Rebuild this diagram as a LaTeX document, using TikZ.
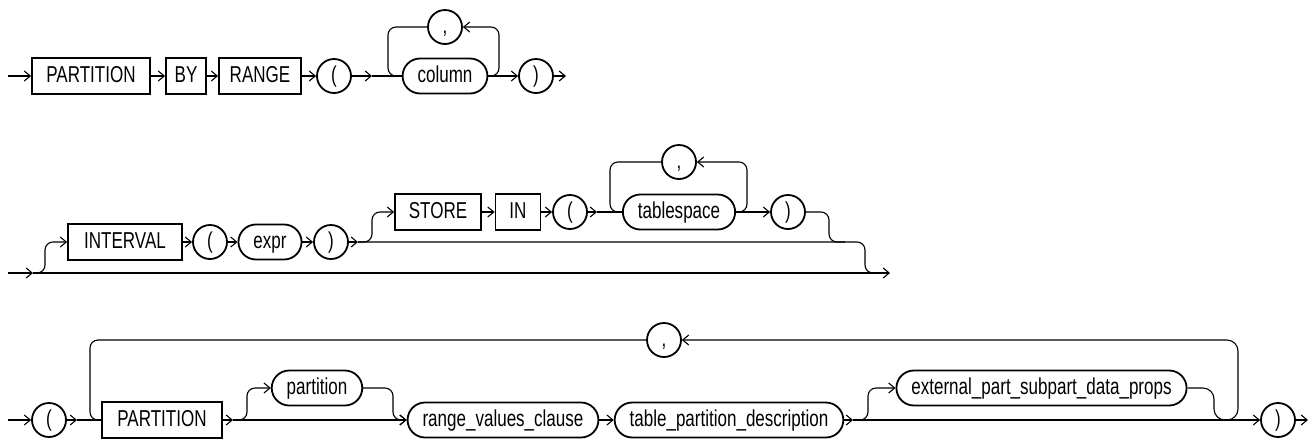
\documentclass[tikz,border=0pt]{standalone}
\usepackage{fontspec}
\setmainfont{Liberation Sans}[FakeStretch=0.74]
\usetikzlibrary{arrows.meta}

\begin{document}
\begin{tikzpicture}[
  x=1pt, y=-1pt,
  every node/.style={font=\fontsize{23}{27}\selectfont,text height=16.5pt,text depth=4.5pt},
  kw/.style={rectangle,draw,line width=1.8pt,minimum height=36pt,inner xsep=8pt,inner ysep=0pt},
  nonterm/.style={rectangle,draw,line width=1.8pt,rounded corners=17.5pt,minimum height=35pt,inner xsep=15pt,inner ysep=0pt},
  sym/.style={circle,draw,line width=1.8pt,minimum size=34pt,inner sep=0pt},
  rail/.style={line width=1.1pt},
  arrow/.style={rail,-{Straight Barb[length=6pt,width=10pt]}},
  turn/.style={rail,rounded corners=8pt}
]
\useasboundingbox (0,0) rectangle (1315,440);

% Row 1: PARTITION BY RANGE ( column, ... )
\node[kw,minimum width=118pt] (part1) at (91,76) {PARTITION};
\node[kw,minimum width=40pt] (by) at (186,76) {BY};
\node[kw,minimum width=82pt] (range) at (260,76) {RANGE};
\node[sym] (lp1) at (334,76) {(};
\node[nonterm] (column) at (445,76) {column};
\node[sym] (comma1) at (445,27) {,};
\node[sym] (rp1) at (536,76) {)};

\coordinate (s1) at (8,76);
\coordinate (j1) at (372,76);
\coordinate (e1) at (566,76);

\draw[arrow] (s1) -- (part1);
\draw[arrow] (part1) -- (by);
\draw[arrow] (by) -- (range);
\draw[arrow] (range) -- (lp1);
\draw[arrow] (lp1) -- (j1);
\draw[rail] (j1) -- (column);
\draw[turn] (comma1.west) -| (388,76) -- (column.west);
\draw[turn,arrow] (column.east) -| (499,27) -- (comma1.east);
\draw[arrow] (column) -- (rp1);
\draw[arrow] (rp1) -- (e1);

% Row 2: optional INTERVAL ( expr ) with optional STORE IN ( tablespace, ... )
\node[kw,minimum width=114pt] (interval) at (125,242) {INTERVAL};
\node[sym] (lp2) at (210,242) {(};
\node[nonterm] (expr) at (270,242) {expr};
\node[sym] (rp2) at (331,242) {)};
\node[kw,minimum width=86pt] (store) at (438,212) {STORE};
\node[kw,minimum width=45pt] (in) at (518,212) {IN};
\node[sym] (lp3) at (570,212) {(};
\node[nonterm] (tablespace) at (679,212) {tablespace};
\node[sym] (comma2) at (679,162) {,};
\node[sym] (rp3) at (788,212) {)};

\coordinate (s2) at (8,273);
\coordinate (j2) at (33,273);
\coordinate (e2) at (890,273);
\coordinate (j3) at (358,242);
\coordinate (j4) at (597,212);

\draw[arrow] (s2) -- (j2);
\draw[arrow] (j2) -- (e2);
\draw[turn,arrow] (j2) -| (45,242) -- (interval.west);
\draw[arrow] (interval) -- (lp2);
\draw[arrow] (lp2) -- (expr);
\draw[arrow] (expr) -- (rp2);
\draw[arrow] (rp2) -- (j3);
\draw[turn] (j3) -| (865,273) -- (880,273);
\draw[turn,arrow] (j3) -| (372,212) -- (store.west);
\draw[arrow] (store) -- (in);
\draw[arrow] (in) -- (lp3);
\draw[arrow] (lp3) -- (j4);
\draw[rail] (j4) -- (tablespace);
\draw[turn] (comma2.west) -| (610,212) -- (tablespace.west);
\draw[turn,arrow] (tablespace.east) -| (747,162) -- (comma2.east);
\draw[arrow] (tablespace) -- (rp3);
\draw[turn] (rp3.east) -| (829,242) -- (845,242);

% Row 3: ( PARTITION [partition] range_values_clause ... , ... )
\node[sym] (lp4) at (49,420) {(};
\node[kw,minimum width=120pt] (part2) at (162,420) {PARTITION};
\node[nonterm] (partition) at (317,388) {partition};
\node[nonterm] (rvc) at (503,420) {range\_values\_clause};
\node[nonterm] (tpd) at (729,420) {table\_partition\_description};
\node[nonterm] (ext) at (1041.5,388) {external\_part\_subpart\_data\_props};
\node[sym] (comma3) at (664,340) {,};
\node[sym] (rp4) at (1278,420) {)};

\coordinate (s4) at (8,420);
\coordinate (j5) at (77,420);
\coordinate (j6) at (233,420);
\coordinate (j7) at (853,420);
\coordinate (j8) at (1226,420);
\coordinate (e4) at (1308,420);

\draw[arrow] (s4) -- (lp4);
\draw[arrow] (lp4) -- (j5);
\draw[rail] (j5) -- (part2);
\draw[turn] (comma3.west) -| (90,420) -- (part2.west);
\draw[arrow] (part2) -- (j6);
\draw[turn,arrow] (j6) -| (247,388) -- (partition.west);
\draw[arrow] (j6) -- (rvc);
\draw[turn,arrow] (partition.east) -| (393,420) -- (rvc.west);
\draw[arrow] (rvc) -- (tpd);
\draw[arrow] (tpd) -- (j7);
\draw[turn,arrow] (j7) -| (868,388) -- (ext.west);
\draw[arrow] (j7) -- (rp4);
\draw[rail,rounded corners=11pt] (ext.east) -| (1214,420) -- (j8);
\draw[arrow,rounded corners=11pt] (j8) -| (1238,340) -- (comma3.east);
\draw[arrow] (rp4) -- (e4);

\end{tikzpicture}
\end{document}
